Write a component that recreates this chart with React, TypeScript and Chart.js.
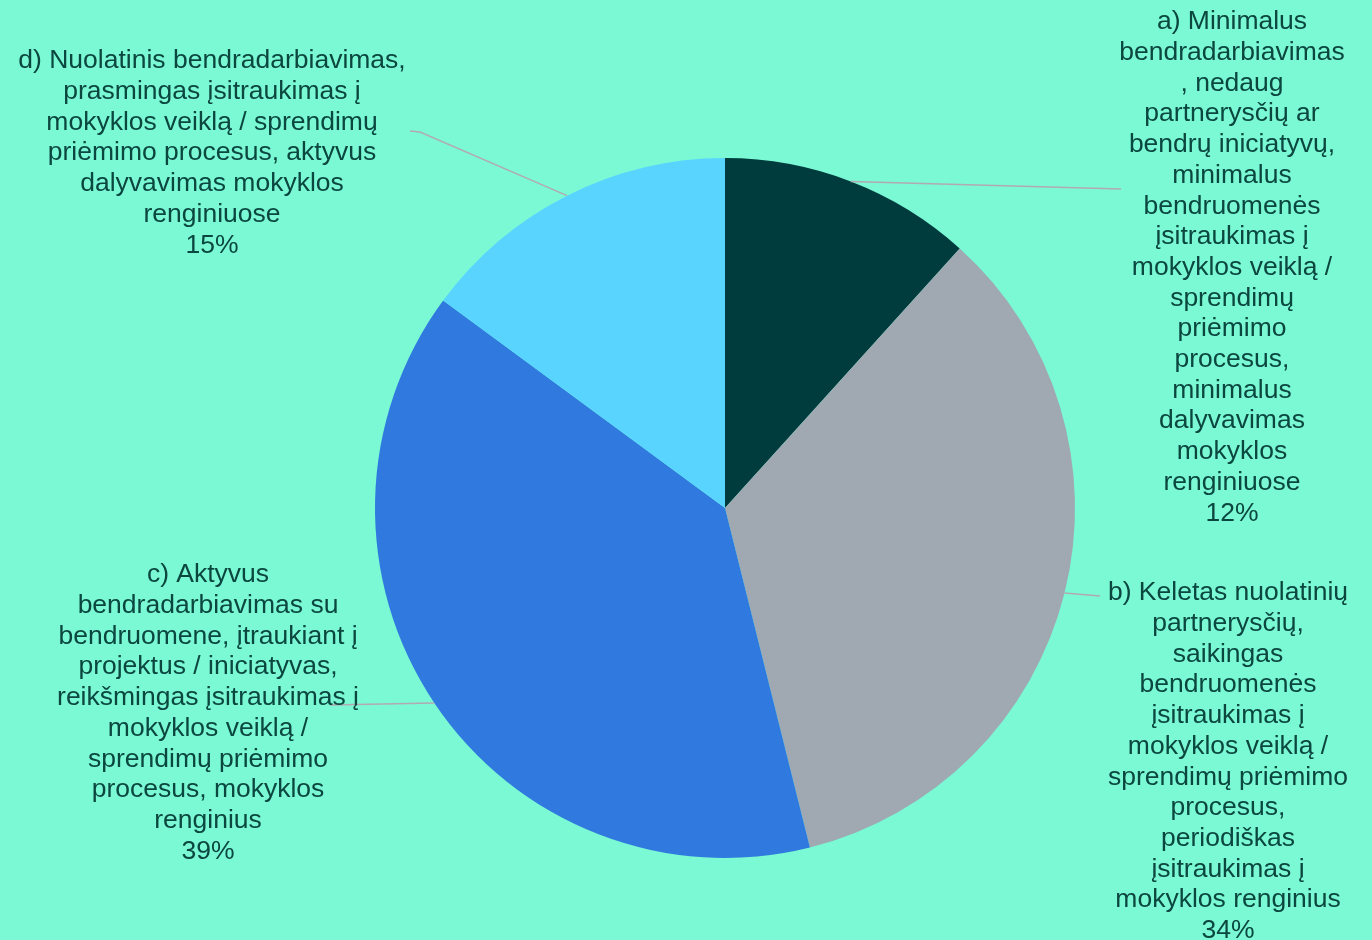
import React, { useEffect, useRef } from "react";
import { Chart, registerables } from "chart.js";

Chart.register(...registerables);

const categories = [
  "a) Minimalus bendradarbiavimas, nedaug partnerysčių ar bendrų iniciatyvų, minimalus bendruomenės įsitraukimas į mokyklos veiklą / sprendimų priėmimo procesus, minimalus dalyvavimas mokyklos renginiuose",
  "b) Keletas nuolatinių partnerysčių, saikingas bendruomenės įsitraukimas į mokyklos veiklą / sprendimų priėmimo procesus, periodiškas įsitraukimas į mokyklos renginius",
  "c) Aktyvus bendradarbiavimas su bendruomene, įtraukiant į projektus / iniciatyvas, reikšmingas įsitraukimas į mokyklos veiklą / sprendimų priėmimo procesus, mokyklos renginius",
  "d) Nuolatinis bendradarbiavimas, prasmingas įsitraukimas į mokyklos veiklą / sprendimų priėmimo procesus, aktyvus dalyvavimas mokyklos renginiuose",
];

const values = [11.7, 34.4, 39.0, 14.9];

const labelLines = [
  [
    "a) Minimalus",
    "bendradarbiavimas",
    ", nedaug",
    "partnerysčių ar",
    "bendrų iniciatyvų,",
    "minimalus",
    "bendruomenės",
    "įsitraukimas į",
    "mokyklos veiklą /",
    "sprendimų",
    "priėmimo",
    "procesus,",
    "minimalus",
    "dalyvavimas",
    "mokyklos",
    "renginiuose",
  ],
  [
    "b) Keletas nuolatinių",
    "partnerysčių,",
    "saikingas",
    "bendruomenės",
    "įsitraukimas į",
    "mokyklos veiklą /",
    "sprendimų priėmimo",
    "procesus,",
    "periodiškas",
    "įsitraukimas į",
    "mokyklos renginius",
  ],
  [
    "c) Aktyvus",
    "bendradarbiavimas su",
    "bendruomene, įtraukiant į",
    "projektus / iniciatyvas,",
    "reikšmingas įsitraukimas į",
    "mokyklos veiklą /",
    "sprendimų priėmimo",
    "procesus, mokyklos",
    "renginius",
  ],
  [
    "d) Nuolatinis bendradarbiavimas,",
    "prasmingas įsitraukimas į",
    "mokyklos veiklą / sprendimų",
    "priėmimo procesus, aktyvus",
    "dalyvavimas mokyklos",
    "renginiuose",
  ],
];

const colors = ["#003B3D", "#A0A8B2", "#3079DE", "#59D4FF"];

// label layout: text block center x, first line center y, leader line end points
const labelLayout = [
  { cx: 1232, y0: 22, line: [[1121, 189]] },
  { cx: 1228, y0: 593, line: [[1100, 596]] },
  { cx: 208, y0: 575, line: [[330, 705]] },
  { cx: 212, y0: 61, line: [[420, 132], [410, 131]] },
];

const BG = "#7AF9D4";
const TEXT = "#0B463F";
const LINE_H = 30.7;

const labelPlugin = {
  id: "outerLabels",
  afterDatasetsDraw(chart: any) {
    const ctx = chart.ctx;
    const meta = chart.getDatasetMeta(0);
    const total = values.reduce((s, v) => s + v, 0);
    ctx.save();
    meta.data.forEach((arc: any, i: number) => {
      const p = arc.getProps(["x", "y", "startAngle", "endAngle", "outerRadius"], true);
      const mid = (p.startAngle + p.endAngle) / 2;
      const sx = p.x + Math.cos(mid) * p.outerRadius;
      const sy = p.y + Math.sin(mid) * p.outerRadius;
      const lay = labelLayout[i];
      ctx.strokeStyle = "#B3A9B3";
      ctx.lineWidth = 1.5;
      ctx.beginPath();
      ctx.moveTo(sx, sy);
      lay.line.forEach((pt) => ctx.lineTo(pt[0], pt[1]));
      ctx.stroke();

      ctx.fillStyle = TEXT;
      ctx.font = '26.5px "Liberation Sans", Arial, sans-serif';
      ctx.textAlign = "center";
      ctx.textBaseline = "middle";
      const lines = [...labelLines[i], Math.round((values[i] / total) * 100) + "%"];
      lines.forEach((t, k) => {
        ctx.fillText(t, lay.cx, lay.y0 + k * LINE_H);
      });
    });
    ctx.restore();
  },
};

export default function App() {
  const ref = useRef<HTMLCanvasElement | null>(null);
  useEffect(() => {
    document.body.style.margin = "0";
    const chart = new Chart(ref.current as HTMLCanvasElement, {
      type: "pie",
      data: {
        labels: categories,
        datasets: [
          {
            data: values,
            backgroundColor: colors,
            borderWidth: 0,
          },
        ],
      },
      options: {
        responsive: false,
        animation: false,
        layout: { padding: { top: 158, bottom: 82, left: 375, right: 297 } },
        plugins: {
          legend: { display: false },
          tooltip: { enabled: false },
        },
      },
      plugins: [labelPlugin],
    });
    return () => chart.destroy();
  }, []);
  return (
    <div style={{ width: 1372, height: 940, background: BG }}>
      <canvas ref={ref} width={1372} height={940} style={{ display: "block" }} />
    </div>
  );
}
